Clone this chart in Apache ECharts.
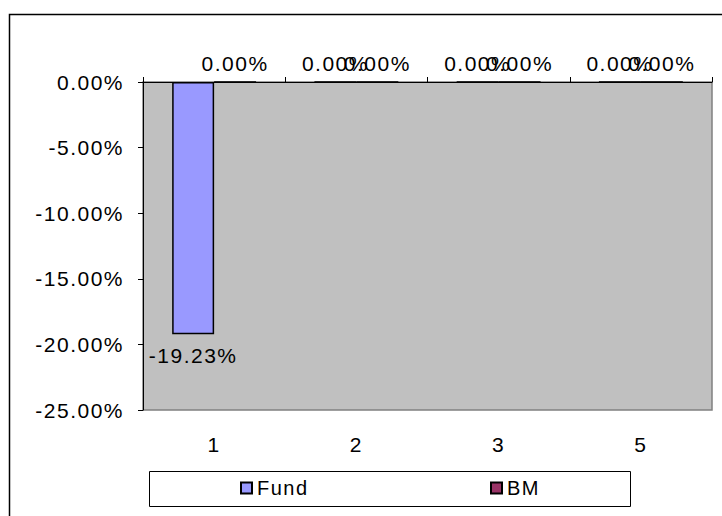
<!DOCTYPE html>
<html>
<head>
<meta charset="utf-8">
<script src="https://cdn.jsdelivr.net/npm/echarts@6/dist/echarts.min.js"></script>
<style>
  html, body { margin: 0; padding: 0; background: #fff; }
  #main { width: 722px; height: 516px; }
  #main text { letter-spacing: 1.5px; }
</style>
</head>
<body>
<div id="main"></div>
<script>
const categories = ['1', '2', '3', '5'];
const fundValues = [-19.23, 0, 0, 0];
const bmValues = [0, 0, 0, 0];
const yTicks = { min: -25, max: 0, interval: 5 };
const seriesNames = ['Fund', 'BM'];

const FONT = "'Liberation Sans', Arial, sans-serif";
const pct = v => Number(v).toFixed(2) + '%';

function toData(arr) {
  return arr.map(v => ({
    value: v,
    label: v < 0 ? { position: 'bottom', distance: 11 } : { position: 'top', distance: 7 }
  }));
}

const chart = echarts.init(document.getElementById('main'), null, { renderer: 'svg' });
chart.setOption({
  animation: false,
  backgroundColor: '#ffffff',
  textStyle: { fontFamily: FONT },
  graphic: [{
    type: 'rect',
    shape: { x: 9.5, y: 14.5, width: 760, height: 560 },
    style: { fill: 'none', stroke: '#000', lineWidth: 1.5 },
    z: -10
  }, {
    type: 'rect',
    shape: { x: 149.5, y: 471.5, width: 481, height: 35 },
    style: { fill: '#fff', stroke: '#000', lineWidth: 1 },
    z: -5
  }],
  grid: {
    left: 143, top: 82, right: 10, bottom: 106,
    show: true, backgroundColor: '#C0C0C0', borderColor: '#808080', borderWidth: 1.5
  },
  legend: [{
    data: [seriesNames[0]], left: 240, top: 478, itemWidth: 11, itemHeight: 11, icon: 'rect',
    textStyle: { fontFamily: FONT, fontSize: 20, color: '#000' },
    itemStyle: { borderColor: '#000', borderWidth: 2 }, padding: 0
  }, {
    data: [seriesNames[1]], left: 490, top: 478, itemWidth: 11, itemHeight: 11, icon: 'rect',
    textStyle: { fontFamily: FONT, fontSize: 20, color: '#000' },
    itemStyle: { borderColor: '#000', borderWidth: 2 }, padding: 0
  }],
  xAxis: [{
    type: 'category', data: categories, position: 'top',
    axisLine: { show: true, onZero: false, lineStyle: { color: '#000', width: 1 } },
    axisTick: { show: true, inside: false, length: 5, lineStyle: { color: '#000' } },
    axisLabel: { show: false },
    splitLine: { show: false }
  }, {
    type: 'category', data: categories, position: 'bottom',
    axisLine: { show: false, onZero: false },
    axisTick: { show: false },
    axisLabel: { show: true, margin: 24, fontSize: 21, color: '#000', fontFamily: FONT },
    splitLine: { show: false }
  }],
  yAxis: {
    type: 'value', min: yTicks.min, max: yTicks.max, interval: yTicks.interval,
    axisLine: { show: true, lineStyle: { color: '#000', width: 1 } },
    axisTick: { show: true, inside: false, length: 5, lineStyle: { color: '#000' } },
    axisLabel: { margin: 19, fontSize: 21, color: '#000', fontFamily: FONT, formatter: v => pct(v) },
    splitLine: { show: false }
  },
  series: [{
    name: seriesNames[0], type: 'bar', xAxisIndex: 0, data: toData(fundValues),
    barGap: '0%', barCategoryGap: '41%',
    itemStyle: { color: '#9999FF', borderColor: '#000', borderWidth: 1.5 },
    label: { show: true, color: '#000', fontSize: 21, fontFamily: FONT, formatter: p => pct(p.value) }
  }, {
    name: seriesNames[1], type: 'bar', xAxisIndex: 0, data: toData(bmValues),
    barGap: '0%', barCategoryGap: '41%',
    itemStyle: { color: '#993366', borderColor: '#000', borderWidth: 1.5 },
    label: { show: true, color: '#000', fontSize: 21, fontFamily: FONT, formatter: p => pct(p.value) }
  }]
});
</script>
</body>
</html>
